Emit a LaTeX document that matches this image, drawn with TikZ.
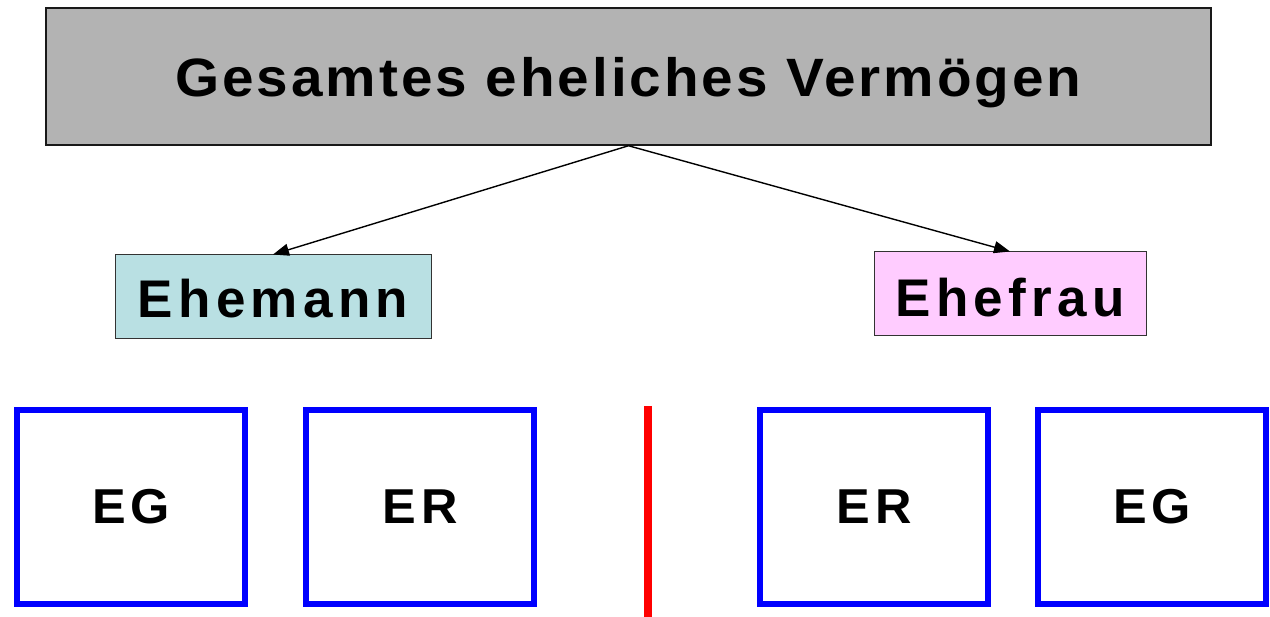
\documentclass[tikz,border=0pt]{standalone}
\usepackage{fontspec}
\setmainfont{Liberation Sans}[BoldFont={Liberation Sans Bold}]
\usetikzlibrary{arrows.meta}
\definecolor{topgray}{HTML}{B3B3B3}
\definecolor{mancyan}{HTML}{B9E0E3}
\definecolor{wifepink}{HTML}{FFCCFF}
\tikzset{
  titlebox/.style={draw=black!90, line width=1.5pt, fill=topgray, inner sep=0pt,
    minimum width=1165pt, minimum height=137pt, text height=40.7pt, text depth=0pt,
    font=\bfseries\fontsize{54}{60}\selectfont\addfontfeatures{FakeStretch=1.05,LetterSpace=5.5}},
  personbox/.style={draw=black!80, line width=1pt, inner sep=0pt, minimum height=84pt,
    text depth=0pt, font=\bfseries\fontsize{53}{60}\selectfont\addfontfeatures{LetterSpace=10}},
  partbox/.style={draw=blue, line width=6pt, fill=white, inner sep=0pt,
    minimum width=228pt, minimum height=194pt, text height=32.1pt, text depth=0pt,
    font=\bfseries\fontsize{49}{56}\selectfont\addfontfeatures{FakeStretch=1.03,LetterSpace=10}},
  conn/.style={line width=1.4pt, -{Triangle[length=16pt,width=12pt]}}
}
\begin{document}
\begin{tikzpicture}[x=1pt,y=-1pt]
\useasboundingbox (0,0) rectangle (1270,617);
\node[titlebox] (total) at (628.5,76.5) {Gesamtes eheliches Vermögen};
\node[personbox, fill=mancyan, minimum width=316pt, text height=41.9pt] (mann) at (273,297) {Ehemann};
\node[personbox, fill=wifepink, minimum width=272pt, text height=45.9pt] (frau) at (1010,294) {Ehefrau};
\draw[conn] (total.south) -- (mann.north);
\draw[conn] (total.south) -- (frau.north);
\node[partbox] (eg1) at (131,507) {EG};
\node[partbox] (er1) at (420,507) {ER};
\node[partbox] (er2) at (874,507) {ER};
\node[partbox] (eg2) at (1152,507) {EG};
\coordinate (sepTop) at (648,406);
\coordinate (sepBot) at (648,617);
\draw[red, line width=8pt] (sepTop) -- (sepBot);
\end{tikzpicture}
\end{document}
